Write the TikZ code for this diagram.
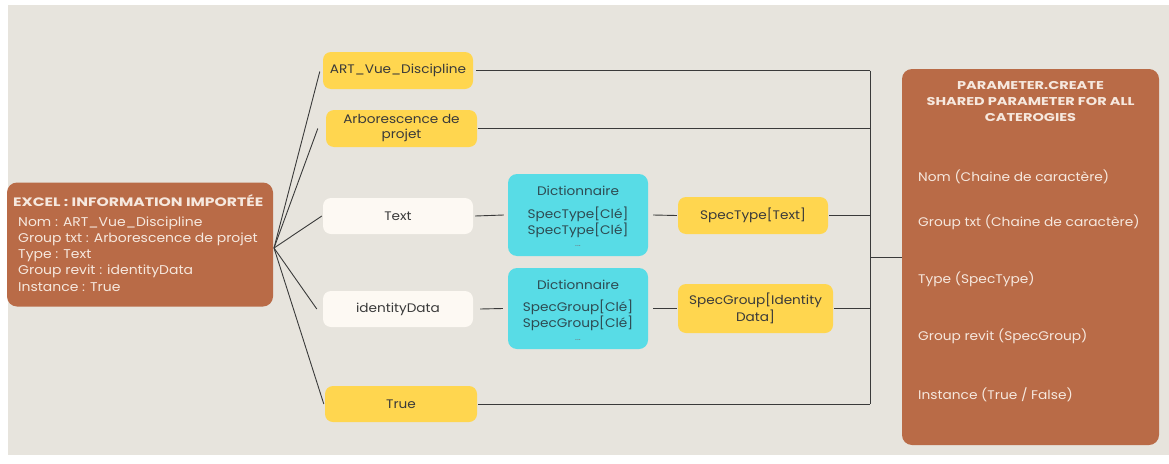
\documentclass[tikz,border=0pt]{standalone}
\usepackage{fontspec}
\setmainfont{Poppins}
\newfontfamily\bodyfont[FakeStretch=1.1]{Poppins}
\newfontfamily\titlefont[FakeStretch=1.28]{Poppins}
\definecolor{bg}{HTML}{E7E4DD}
\definecolor{rust}{HTML}{B96B47}
\definecolor{sun}{HTML}{FFD64F}
\definecolor{aqua}{HTML}{58DCE6}
\definecolor{cream}{HTML}{FDF9F3}
\definecolor{ink}{HTML}{3A3A3A}
\definecolor{lighttxt}{HTML}{F6E8DE}
\definecolor{teal}{HTML}{2E4B52}
\tikzset{
  box/.style={rounded corners=8pt, inner sep=0pt, align=center, font=\bodyfont\fontsize{12.4}{15}\selectfont, text=ink},
  yel/.style={box, fill=sun},
  wht/.style={box, fill=cream},
  dict/.style={rounded corners=9pt, fill=aqua, inner sep=0pt},
  dtxt/.style={font=\bodyfont\fontsize{12.4}{15}\selectfont, text=teal, inner sep=0pt},
  dots/.style={font=\fontsize{9}{10}\selectfont, text=teal!70, inner sep=0pt},
  big/.style={rounded corners=10pt, fill=rust, inner sep=0pt},
  btxt/.style={font=\bodyfont\fontsize{12.5}{15}\selectfont, text=lighttxt, inner sep=0pt, anchor=west},
  btitle/.style={text=lighttxt, inner sep=0pt, align=center},
  wire/.style={draw=ink, line width=0.9pt}
}
\begin{document}
\begin{tikzpicture}[x=1pt,y=-1pt]
\useasboundingbox (0,0) rectangle (1169,463);
\fill[white] (0,0) rectangle (1169,463);
\fill[bg] (8,5) rectangle (1169,455);

% big boxes
\node[big, minimum width=266pt, minimum height=124pt] (excel) at (140,244.5) {};
\node[btitle, anchor=west, font=\titlefont\bfseries\fontsize{12.2}{15}\selectfont] (exceltitle) at (13,201) {EXCEL : INFORMATION IMPORTÉE};
\node[btxt, font=\bodyfont\fontsize{12.7}{15}\selectfont] (e1) at (18,223) {Nom : ART\_Vue\_Discipline};
\node[btxt, font=\bodyfont\fontsize{12.7}{15}\selectfont] (e2) at (18,239.5) {Group txt : Arborescence de projet};
\node[btxt, font=\bodyfont\fontsize{12.7}{15}\selectfont] (e3) at (18,255.5) {Type : Text};
\node[btxt, font=\bodyfont\fontsize{12.7}{15}\selectfont] (e4) at (18,271.5) {Group revit : identityData};
\node[btxt, font=\bodyfont\fontsize{12.7}{15}\selectfont] (e5) at (18,287.5) {Instance : True};

\node[big, minimum width=257pt, minimum height=376pt] (param) at (1030.5,257) {};
\node[btitle, font=\titlefont\bfseries\fontsize{11.35}{16}\selectfont] (paramtitle) at (1030.5,101.5) {PARAMETER.CREATE\\SHARED PARAMETER FOR ALL\\CATEROGIES};
\node[btxt] (p1) at (918,176.5) {Nom (Chaine de caractère)};
\node[btxt] (p2) at (918,222.5) {Group txt (Chaine de caractère)};
\node[btxt] (p3) at (918,279) {Type (SpecType)};
\node[btxt] (p4) at (918,336.5) {Group revit (SpecGroup)};
\node[btxt] (p5) at (918,394.5) {Instance (True / False)};

% middle column
\node[yel, minimum width=150pt, minimum height=37pt] (art) at (398,70.5) {ART\_Vue\_Discipline};
\node[yel, minimum width=151pt, minimum height=37pt] (arbo) at (401.5,128.5) {Arborescence de\\projet};
\node[wht, minimum width=150pt, minimum height=36pt] (text) at (398,216) {Text};
\node[wht, minimum width=150pt, minimum height=36pt] (ident) at (398,309) {identityData};
\node[yel, minimum width=152pt, minimum height=36pt] (true) at (401,404) {True};

% dictionaries
\node[dict, minimum width=140pt, minimum height=82pt] (d1) at (578,215) {};
\node[dtxt] (d1a) at (578,190.5) {Dictionnaire};
\node[dtxt] (d1b) at (578,214) {SpecType[Clé]};
\node[dtxt] (d1c) at (578,230) {SpecType[Clé]};
\node[dots] (d1d) at (578,246) {...};
\node[dict, minimum width=140pt, minimum height=81pt] (d2) at (578,308.5) {};
\node[dtxt] (d2a) at (578,285) {Dictionnaire};
\node[dtxt] (d2b) at (578,307) {SpecGroup[Clé]};
\node[dtxt] (d2c) at (578,323) {SpecGroup[Clé]};
\node[dots] (d2d) at (578,340) {...};

% results
\node[yel, minimum width=150pt, minimum height=37pt] (st) at (753,215.5) {SpecType[Text]};
\node[yel, minimum width=155pt, minimum height=49pt, font=\bodyfont\fontsize{12.4}{16.5}\selectfont] (sg) at (755.5,308.5) {SpecGroup[Identity\\Data]};

% hub and bus
\coordinate (hub) at (274,248);
\coordinate (bustop) at (870,70.5);
\coordinate (busbot) at (870,404);
\coordinate (busmid) at (870,257);

\draw[wire] (hub) -- ([xshift=-3pt,yshift=-1pt]art.west);
\draw[wire] (hub) -- ([xshift=-8pt]arbo.west);
\draw[wire] (hub) -- ([xshift=-1pt]text.west);
\draw[wire] (hub) -- ([xshift=-6pt]ident.west);
\draw[wire] (hub) -- ([xshift=-1pt]true.west);

\draw[wire] (bustop) -- (busbot);
\draw[wire] ([xshift=3pt]art.east) -- (art.east -| bustop);
\draw[wire] ([xshift=1pt]arbo.east) -- (arbo.east -| bustop);
\draw[wire] ([xshift=1pt]true.east) -- (true.east -| bustop);
\draw[wire] ([xshift=1pt]st.east) -- (st.east -| bustop);
\draw[wire] ([xshift=1pt]sg.east) -- (sg.east -| bustop);
\draw[wire] (busmid) -- (param.west);

\draw[wire] ([xshift=2pt]text.east) -- ([xshift=-4pt]d1.west);
\draw[wire] ([xshift=5pt]d1.east) -- ([xshift=-1pt]st.west);
\draw[wire] ([xshift=7pt]ident.east) -- ([xshift=-5pt]d2.west);
\draw[wire] ([xshift=5pt]d2.east) -- ([xshift=-1pt]sg.west);
\end{tikzpicture}
\end{document}
